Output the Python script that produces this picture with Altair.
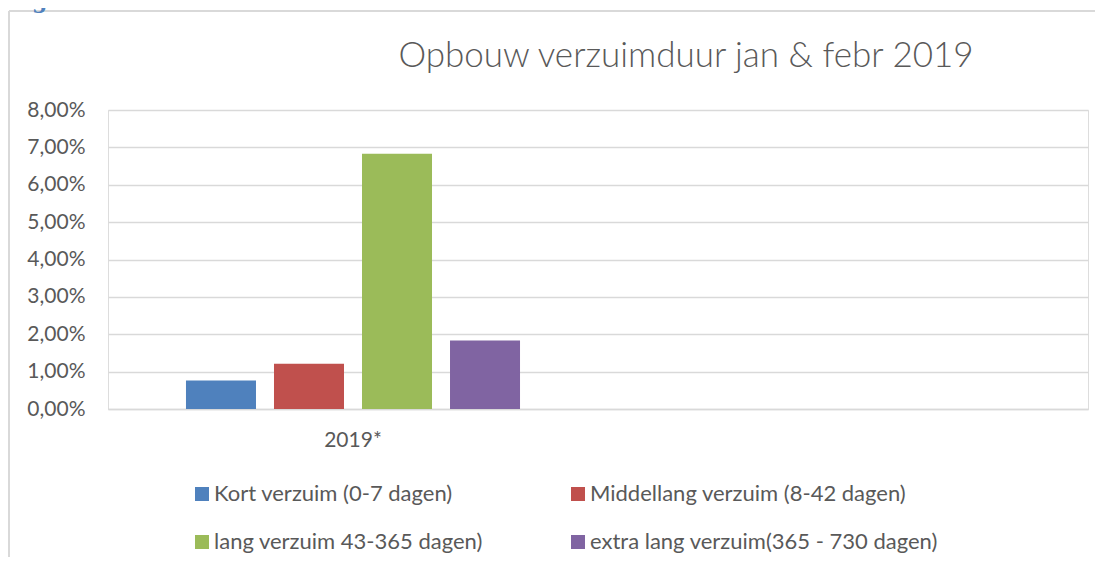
import altair as alt
import pandas as pd

# ---- data ----
categories = ["2019*", " "]
series = [
    "Kort verzuim (0-7 dagen)",
    "Middellang verzuim (8-42 dagen)",
    "lang verzuim 43-365 dagen)",
    "extra lang verzuim(365 - 730 dagen)",
]
values_pct = [0.76, 1.21, 6.83, 1.83]
colors = ["#4f81bd", "#c0504d", "#9bbb59", "#8064a2"]
y_ticks = [0, 1, 2, 3, 4, 5, 6, 7, 8]
title_text = "Opbouw verzuimduur jan & febr 2019"
caption_text = "Figuur 2 :"

df = pd.DataFrame({"cat": [categories[0]] * len(series), "serie": series, "val": values_pct})

FONT = "Lato"
GREY = "#595959"
GRID = "#d9d9d9"

bars = alt.Chart(df).mark_bar().encode(
    x=alt.X("cat:N", scale=alt.Scale(domain=categories, paddingInner=0, paddingOuter=0),
            axis=alt.Axis(title=None, labelAngle=0, ticks=False, domain=True, domainColor=GRID,
                          domainWidth=1.5, labelPadding=20, labelFontSize=21, labelColor=GREY,
                          labelFont=FONT)),
    xOffset=alt.XOffset("serie:N", scale=alt.Scale(domain=series, paddingInner=0.2045, paddingOuter=0.886)),
    y=alt.Y("val:Q", scale=alt.Scale(domain=[0, 8], nice=False),
            axis=alt.Axis(title=None, values=y_ticks, grid=True, gridColor=GRID, gridWidth=1.5,
                          domain=False, ticks=False, labelPadding=23, labelFontSize=21,
                          labelColor=GREY, labelFont=FONT,
                          labelExpr="replace(format(datum.value, '.2f'), '.', ',') + '%'")),
    color=alt.Color("serie:N", scale=alt.Scale(domain=series, range=colors),
                    legend=alt.Legend(title=None, orient="none", legendX=83, legendY=373,
                                      direction="horizontal", columns=2, columnPadding=84,
                                      rowPadding=26, labelLimit=0,
                                      symbolType="square", symbolSize=196, symbolStrokeWidth=0,
                                      labelFontSize=22, labelColor=GREY, labelFont=FONT,
                                      labelOffset=1, padding=0)),
)

frame_df = pd.DataFrame({"k": [0]})
top_border = alt.Chart(frame_df).mark_rule(color=GRID, strokeWidth=2).encode(
    x=alt.value(-99), x2=alt.value(987), y=alt.value(-99))
left_border = alt.Chart(frame_df).mark_rule(color=GRID, strokeWidth=2).encode(
    x=alt.value(-99), y=alt.value(-99), y2=alt.value(447))
caption = alt.Chart(frame_df).mark_text(
    text=caption_text, font="DejaVu Serif", fontWeight="bold", fontSize=22,
    color="#4f81bd", align="left", baseline="alphabetic").encode(
    x=alt.value(-100), y=alt.value(-102))
title = alt.Chart(frame_df).mark_text(
    text=title_text, font=FONT, fontWeight=300, fontSize=35, color=GREY,
    align="center", baseline="alphabetic").encode(
    x=alt.value(578), y=alt.value(-43))

chart = alt.layer(bars, top_border, left_border, caption, title).properties(
    width=980, height=299,
    autosize=alt.AutoSizeParams(type="none"),
    padding={"left": 100, "top": 102, "right": 7, "bottom": 148},
).configure_view(stroke=None).configure(background="white")

chart.save("out.html", embed_options={"renderer": "svg", "actions": False})
